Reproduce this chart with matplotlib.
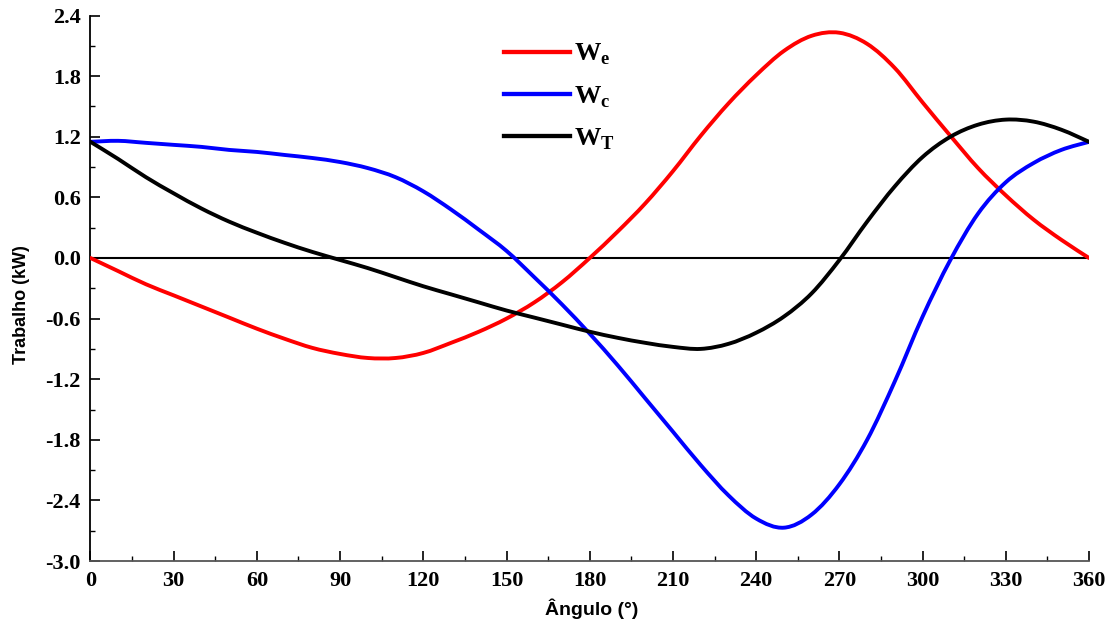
import matplotlib
matplotlib.use("Agg")
import matplotlib.pyplot as plt
from matplotlib.path import Path
from matplotlib.patches import PathPatch
from matplotlib.lines import Line2D
from matplotlib.ticker import MultipleLocator

# Crank angle (degrees)
angles = [0, 10, 20, 30, 40, 50, 60, 70, 80, 90, 100, 110, 120, 130, 140, 150, 160, 170, 180,
          190, 200, 210, 220, 230, 240, 250, 260, 270, 280, 290, 300, 310, 320, 330, 340, 350, 360]

# Expansion-space work (kW)
w_e = [0.00, -0.13, -0.26, -0.37, -0.48, -0.59, -0.70, -0.80, -0.89, -0.95, -0.99, -0.99, -0.94,
       -0.84, -0.73, -0.60, -0.44, -0.24, 0.00, 0.26, 0.54, 0.86, 1.21, 1.53, 1.81, 2.05, 2.20,
       2.23, 2.12, 1.88, 1.54, 1.21, 0.89, 0.62, 0.38, 0.18, 0.00]

# Compression-space work (kW)
w_c = [1.15, 1.16, 1.14, 1.12, 1.10, 1.07, 1.05, 1.02, 0.99, 0.95, 0.89, 0.80, 0.66, 0.48, 0.28,
       0.07, -0.19, -0.46, -0.75, -1.06, -1.39, -1.72, -2.05, -2.35, -2.58, -2.67, -2.54, -2.24,
       -1.80, -1.22, -0.58, -0.02, 0.44, 0.75, 0.94, 1.07, 1.15]

# Total work (kW)
w_t = [1.15, 0.98, 0.80, 0.64, 0.49, 0.36, 0.25, 0.15, 0.06, -0.02, -0.10, -0.19, -0.28, -0.36,
       -0.44, -0.52, -0.59, -0.66, -0.73, -0.79, -0.84, -0.88, -0.90, -0.85, -0.74, -0.58, -0.35,
       -0.02, 0.36, 0.71, 1.00, 1.20, 1.32, 1.37, 1.35, 1.27, 1.15]

series = [
    (w_e, "#ff0000", r"$\mathbf{W}_\mathbf{e}$"),
    (w_c, "#0000ff", r"$\mathbf{W}_\mathbf{c}$"),
    (w_t, "#000000", r"$\mathbf{W}_\mathbf{T}$"),
]

x_ticks = [0, 30, 60, 90, 120, 150, 180, 210, 240, 270, 300, 330, 360]
y_ticks = [-3.0, -2.4, -1.8, -1.2, -0.6, 0.0, 0.6, 1.2, 1.8, 2.4]


def smooth_path(x, y):
    """Catmull-Rom curve through the points, expressed as cubic Bezier segments."""
    n = len(x)
    verts = [(x[0], y[0])]
    codes = [Path.MOVETO]
    for i in range(n - 1):
        xa, ya = (x[i - 1], y[i - 1]) if i > 0 else (x[i], y[i])
        xb, yb = (x[i + 2], y[i + 2]) if i + 2 < n else (x[i + 1], y[i + 1])
        c1 = (x[i] + (x[i + 1] - xa) / 6.0, y[i] + (y[i + 1] - ya) / 6.0)
        c2 = (x[i + 1] - (xb - x[i]) / 6.0, y[i + 1] - (yb - y[i]) / 6.0)
        verts += [c1, c2, (x[i + 1], y[i + 1])]
        codes += [Path.CURVE4] * 3
    return Path(verts, codes)


plt.rcParams["mathtext.fontset"] = "custom"
plt.rcParams["mathtext.rm"] = "Liberation Serif"
plt.rcParams["mathtext.bf"] = "Liberation Serif:bold"

fig = plt.figure(figsize=(11.14, 6.23), dpi=100)
ax = fig.add_axes([0.0812, 0.0995, 0.8964, 0.8755])

lw = 2.8
handles = []
for vals, color, label in series:
    patch = PathPatch(smooth_path(angles, vals), facecolor="none", edgecolor=color,
                      lw=lw, capstyle="round", joinstyle="round", zorder=3)
    ax.add_patch(patch)
    handles.append(Line2D([], [], color=color, lw=lw + 0.3, label=label))

# zero reference line
ax.plot([0, 360], [0, 0], color="black", lw=1.5, zorder=2)

ax.set_xlim(0, 360)
ax.set_ylim(-3.0, 2.4)
ax.set_xticks(x_ticks)
ax.set_yticks(y_ticks)
ax.xaxis.set_minor_locator(MultipleLocator(15))
ax.yaxis.set_minor_locator(MultipleLocator(0.3))
ax.set_xticklabels([str(v) for v in x_ticks])
ax.set_yticklabels([f"{v:.1f}" for v in y_ticks])

for side in ("top", "right"):
    ax.spines[side].set_visible(False)
ax.spines["left"].set_linewidth(1.3)
ax.spines["bottom"].set_linewidth(1.3)
ax.spines["bottom"].set_color("#555555")

ax.tick_params(which="major", direction="in", length=7.2, width=1.2, color="black", pad=7)
ax.tick_params(which="minor", direction="in", length=3.6, width=1.0, color="black")
for lab in ax.get_xticklabels() + ax.get_yticklabels():
    lab.set_fontfamily("Liberation Serif")
    lab.set_fontweight("bold")
    lab.set_fontsize(16)

ax.set_xlabel("Ângulo (°)", fontfamily="Liberation Sans", fontweight="bold", fontsize=14)
ax.set_ylabel("Trabalho (kW)", fontfamily="Liberation Sans", fontweight="bold", fontsize=13)
ax.xaxis.set_label_coords(0.502, -0.068)
ax.yaxis.set_label_coords(-0.0686, 0.471)
ax.yaxis.label.set_verticalalignment("center")

ax.legend(handles=handles, loc="upper left", bbox_to_anchor=(0.39, 0.997),
          frameon=False, fontsize=19, handlelength=2.5, handletextpad=0.15,
          labelspacing=0.6)

fig.savefig("out.png", dpi=100)
